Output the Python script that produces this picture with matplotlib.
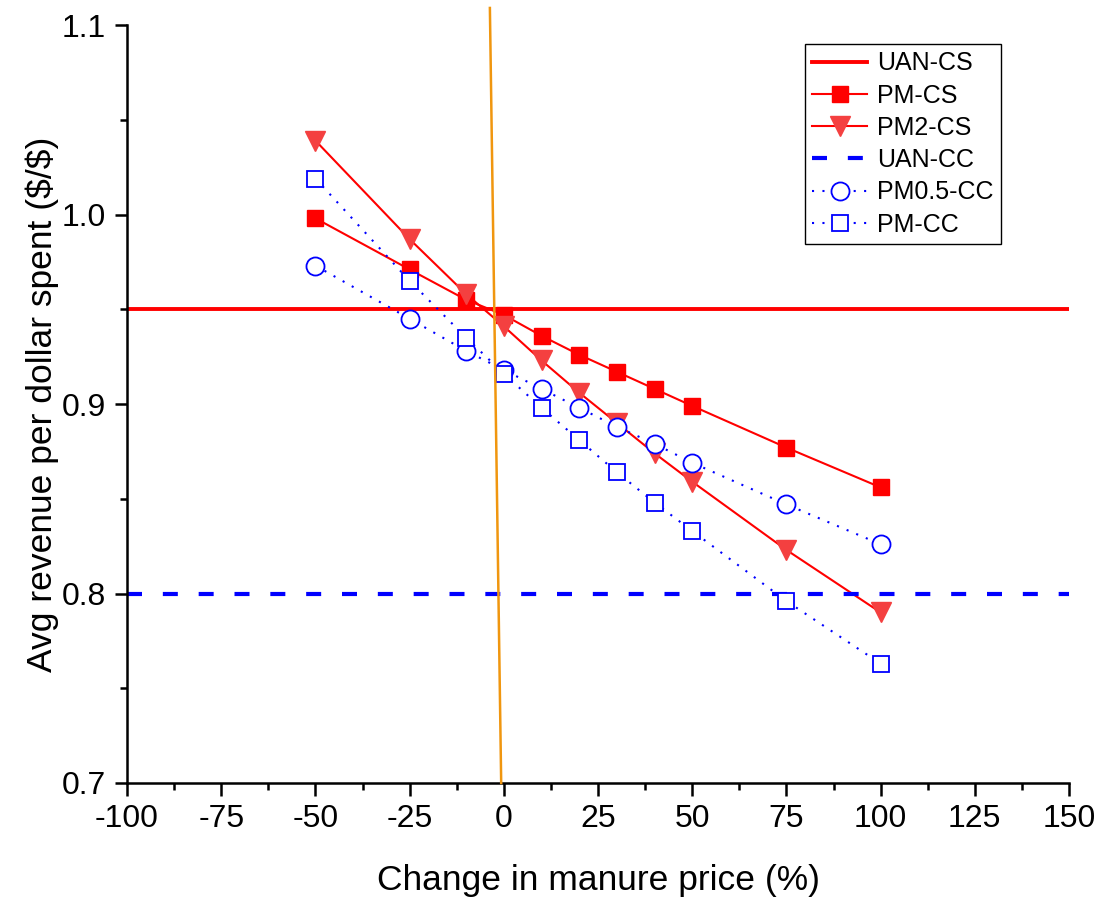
import numpy as np
import matplotlib
matplotlib.use('Agg')
import matplotlib.pyplot as plt
from matplotlib.ticker import MultipleLocator

plt.rcParams['font.family'] = ['Liberation Sans', 'DejaVu Sans']

#------------------ Datos
price_change = [-50, -25, -10, 0, 10, 20, 30, 40, 50, 75, 100]

uan_cs = 0.95
uan_cc = 0.80

pm_cs   = [0.998, 0.971, 0.955, 0.947, 0.936, 0.926, 0.917, 0.908, 0.899, 0.877, 0.856]
pm2_cs  = [1.039, 0.987, 0.958, 0.941, 0.923, 0.906, 0.890, 0.874, 0.859, 0.823, 0.790]
pm05_cc = [0.973, 0.945, 0.928, 0.918, 0.908, 0.898, 0.888, 0.879, 0.869, 0.847, 0.826]
pm_cc   = [1.019, 0.965, 0.935, 0.916, 0.898, 0.881, 0.864, 0.848, 0.833, 0.796, 0.763]

# Linea naranja (break-even)
orange_x = [-3.7, -0.7]
orange_y = [1.109, 0.7]

x_ticks = [-100, -75, -50, -25, 0, 25, 50, 75, 100, 125, 150]
y_ticks = [0.7, 0.8, 0.9, 1.0, 1.1]

#------------------ Figura
fig = plt.figure(figsize=(10.99, 9), dpi=100)
ax = fig.add_axes([0.1156, 0.13, 0.8571, 0.8422])

xlims = [x_ticks[0], x_ticks[-1]]
ax.plot(xlims, [uan_cs, uan_cs], color='#ff0000', lw=2.8, label='UAN-CS')
ax.plot(price_change, pm_cs, color='#ff0000', lw=1.5, marker='s', ms=11.5,
        mfc='#ff0000', mec='#ff0000', label='PM-CS')
ax.plot(price_change, pm2_cs, color='#ff0000', lw=1.5, marker='v', ms=14.5,
        mfc='#f44040', mec='#f44040', label='PM2-CS')
ax.plot(xlims, [uan_cc, uan_cc], color='#0000ff', lw=3, ls=(0, (3.6, 5)), label='UAN-CC')
ax.plot(price_change, pm05_cc, color='#0000ff', lw=1.5, ls=(0, (1, 4)), marker='o', ms=13,
        mfc='white', mec='#0000ff', mew=1.3, label='PM0.5-CC')
ax.plot(price_change, pm_cc, color='#0000ff', lw=1.5, ls=(0, (1, 4)), marker='s', ms=11.5,
        mfc='white', mec='#0000ff', mew=1.3, label='PM-CC')

ax.plot(orange_x, orange_y, color='#f0960f', lw=1.8, clip_on=False, zorder=5)

ax.set_xlim(xlims)
ax.set_ylim(y_ticks[0], y_ticks[-1])
ax.set_xticks(x_ticks)
ax.set_xticklabels([str(v) for v in x_ticks])
ax.set_yticks(y_ticks)
ax.set_yticklabels(['%.1f' % v for v in y_ticks])
ax.xaxis.set_minor_locator(MultipleLocator(12.5))
ax.yaxis.set_minor_locator(MultipleLocator(0.05))

for s in ['top', 'right']:
    ax.spines[s].set_visible(False)
for s in ['left', 'bottom']:
    ax.spines[s].set_linewidth(1.8)

ax.tick_params(which='major', direction='out', length=9, width=1.8, labelsize=23, pad=6)
ax.tick_params(which='minor', direction='out', length=5, width=1.8)

ax.set_xlabel('Change in manure price (%)', fontsize=25.5, labelpad=22)
ax.set_ylabel(r'Avg revenue per dollar spent (\$/\$)', fontsize=25.5, labelpad=2)

leg = ax.legend(loc='upper right', bbox_to_anchor=(0.928, 0.975), fontsize=18,
                frameon=True, fancybox=False, edgecolor='black', framealpha=1,
                handlelength=2.2, borderpad=0.3, labelspacing=0.33, handletextpad=0.4,
                borderaxespad=0)
leg.get_frame().set_linewidth(1.0)

fig.savefig('out.png', dpi=100)
